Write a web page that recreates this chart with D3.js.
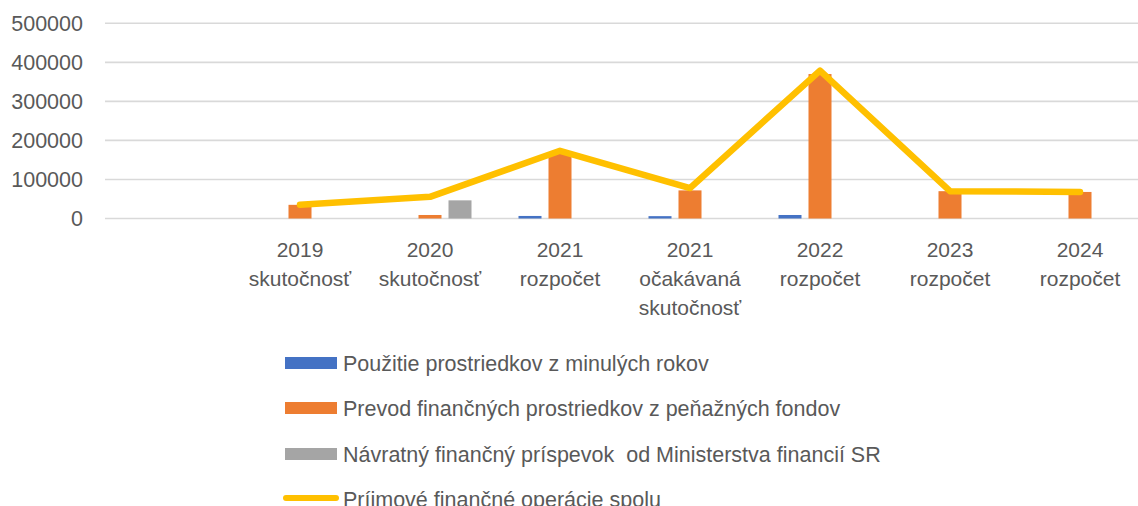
<!DOCTYPE html>
<html>
<head>
<meta charset="utf-8">
<script src="https://cdn.jsdelivr.net/npm/d3@7"></script>
<style>
  html, body { margin: 0; padding: 0; background: #fff; }
  svg { display: block; }
  text { font-family: "Liberation Sans", Arial, sans-serif; fill: #595959; white-space: pre; }
</style>
</head>
<body>
<svg id="chart" width="1138" height="506"></svg>
<script>
// ---- data ----
const categories = [
  [""],
  ["2019", "skutočnosť"],
  ["2020", "skutočnosť"],
  ["2021", "rozpočet"],
  ["2021", "očakávaná", "skutočnosť"],
  ["2022", "rozpočet"],
  ["2023", "rozpočet"],
  ["2024", "rozpočet"]
];
const seriesNames = [
  "Použitie prostriedkov z minulých rokov",
  "Prevod finančných prostriedkov z peňažných fondov",
  "Návratný finančný príspevok  od Ministerstva financií SR",
  "Príjmové finančné operácie spolu"
];
const pouzitie = [null, 0, 0, 6500, 6000, 9000, 0, 0];
const prevod   = [null, 35000, 9000, 167000, 72000, 370000, 70000, 68000];
const navratny = [null, 0, 46500, 0, 0, 0, 0, 0];
const spolu    = [null, 35000, 55500, 173500, 78000, 379000, 70000, 68000];
const yTicks = [0, 100000, 200000, 300000, 400000, 500000];

const barColors = ["#4472C4", "#ED7D31", "#A5A5A5"];
const lineColor = "#FFC000";

// ---- layout ----
const svg = d3.select("#chart");
const plot = { left: 105, right: 1145, top: 23.3, bottom: 218.5 };

const catIdx = categories.map((c, i) => i);
const x = d3.scaleBand().domain(catIdx).range([plot.left, plot.right]).paddingInner(0).paddingOuter(0);
const y = d3.scaleLinear().domain([0, 500000]).range([plot.bottom, plot.top]);
const barKeys = [0, 1, 2];
const xInner = d3.scaleBand().domain(barKeys).range([-41.5, 41.5]).paddingInner(7 / 30).paddingOuter(0);

// gridlines
svg.append("g").selectAll("line").data(yTicks).join("line")
  .attr("x1", plot.left).attr("x2", plot.right)
  .attr("y1", d => y(d)).attr("y2", d => y(d))
  .attr("stroke", "#D9D9D9").attr("stroke-width", 1.6);

// y axis labels
svg.append("g").selectAll("text").data(yTicks).join("text")
  .attr("x", 83).attr("y", d => y(d))
  .attr("dy", "0.36em")
  .attr("text-anchor", "end")
  .style("font-size", "21.5px")
  .text(d => d);

// bars
const barSeries = [pouzitie, prevod, navratny];
barSeries.forEach((vals, s) => {
  svg.append("g").selectAll("rect")
    .data(vals.map((v, i) => ({ v, i })).filter(d => d.v != null && d.v > 0))
    .join("rect")
    .attr("x", d => x(d.i) + x.bandwidth() / 2 + xInner(s))
    .attr("width", xInner.bandwidth())
    .attr("y", d => y(d.v))
    .attr("height", d => y(0) - y(d.v))
    .attr("fill", barColors[s]);
});

// line
const line = d3.line()
  .defined(d => d.v != null)
  .x(d => x(d.i) + x.bandwidth() / 2)
  .y(d => y(d.v));
svg.append("path")
  .datum(spolu.map((v, i) => ({ v, i })))
  .attr("d", line)
  .attr("fill", "none")
  .attr("stroke", lineColor)
  .attr("stroke-width", 6.5)
  .attr("stroke-linejoin", "round")
  .attr("stroke-linecap", "round");

// x labels
const xl = svg.append("g");
categories.forEach((lines, i) => {
  const t = xl.append("text")
    .attr("x", x(i) + x.bandwidth() / 2)
    .attr("y", 257)
    .attr("text-anchor", "middle")
    .style("font-size", "21px");
  lines.forEach((ln, k) => {
    t.append("tspan").attr("x", x(i) + x.bandwidth() / 2).attr("y", 257 + k * 29).text(ln);
  });
});

// legend
const legendY = [363, 408, 454, 499];
const lg = svg.append("g");
seriesNames.forEach((name, k) => {
  const g = lg.append("g");
  if (k < 3) {
    g.append("rect").attr("x", 285).attr("y", legendY[k] - 6).attr("width", 52).attr("height", 12)
      .attr("fill", barColors[k]);
  } else {
    g.append("line").attr("x1", 286).attr("x2", 336).attr("y1", legendY[k] - 1).attr("y2", legendY[k] - 1)
      .attr("stroke", lineColor).attr("stroke-width", 6).attr("stroke-linecap", "round");
  }
  g.append("text").attr("x", 343).attr("y", legendY[k]).attr("dy", "0.36em")
    .style("font-size", "21.5px").text(name);
});
</script>
</body>
</html>
